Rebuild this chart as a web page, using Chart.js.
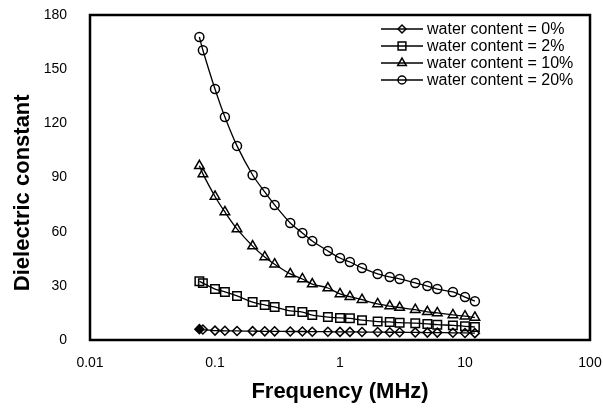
<!DOCTYPE html>
<html>
<head>
<meta charset="utf-8">
<script src="https://cdn.jsdelivr.net/npm/chart.js@4/dist/chart.umd.min.js"></script>
<style>
  html, body { margin: 0; padding: 0; background: #fff; }
  #wrap { width: 603px; height: 417px; }
</style>
</head>
<body>
<div id="wrap"><canvas id="chart"></canvas></div>
<script>
// Dielectric constant vs frequency for four soil water contents (log x axis)

const frequencies = [0.075, 0.08, 0.1, 0.12, 0.15, 0.2, 0.25, 0.3, 0.4, 0.5, 0.6, 0.8,
                     1, 1.2, 1.5, 2, 2.5, 3, 4, 5, 6, 8, 10, 12];

const water0  = [6, 5.8, 5.2, 5.1, 5, 4.9, 4.8, 4.8, 4.7, 4.7, 4.6, 4.6,
                 4.5, 4.5, 4.4, 4.4, 4.3, 4.3, 4.2, 4.1, 4.1, 4, 3.9, 3.8];
const water2  = [32.5, 31.5, 28.2, 26.6, 24.4, 21, 19.4, 18.3, 16.1, 15.5, 13.8, 12.7,
                 12.2, 12, 11, 10.2, 10, 9.6, 9.3, 8.9, 8.5, 8.1, 7.6, 7.2];
const water10 = [96.5, 92, 79.5, 70.9, 61.5, 52, 46, 42, 36.6, 33.8, 31, 28.8,
                 25.5, 24, 22.3, 20, 18.8, 18, 16.8, 15.6, 15, 13.9, 13.2, 12.5];
const water20 = [167.8, 160.5, 139, 123.5, 107.5, 91.4, 82, 74.8, 64.8, 59.3, 54.8, 49.3,
                 45.4, 43.2, 39.9, 36.6, 34.9, 33.8, 31.6, 29.9, 28.2, 26.6, 23.8, 21.5];

const seriesLabels = ['water content = 0%', 'water content = 2%',
                      'water content = 10%', 'water content = 20%'];

const xTicks = [0.01, 0.1, 1, 10, 100];
const xTickLabels = ['0.01', '0.1', '1', '10', '100'];

const FONT = '"Liberation Sans", Arial, sans-serif';

function series(label, values, style, radius, firstFilled) {
    return {
        label: label,
        data: frequencies.map((f, i) => ({ x: f, y: values[i] })),
        borderColor: '#000',
        borderWidth: 1.3,
        tension: 0.3,
        pointStyle: style,
        pointRadius: radius,
        pointBorderColor: '#000',
        pointBorderWidth: 1.5,
        pointBackgroundColor: values.map((v, i) => (firstFilled && i === 0) ? '#000' : 'rgba(0,0,0,0)')
    };
}

// plot frame (all four sides)
const framePlugin = {
    id: 'frame',
    afterDraw(chart) {
        const { ctx, chartArea: a } = chart;
        ctx.save();
        ctx.strokeStyle = '#000';
        ctx.lineWidth = 2.5;
        ctx.strokeRect(a.left, a.top, a.right - a.left, a.bottom - a.top);
        ctx.restore();
    }
};

// legend in the top-right corner: line sample with marker, then label
const legendPlugin = {
    id: 'lineLegend',
    afterDraw(chart) {
        const ctx = chart.ctx;
        ctx.save();
        chart.data.datasets.forEach((ds, i) => {
            const y = 29 + i * 17;
            ctx.strokeStyle = '#000';
            ctx.lineWidth = 1.3;
            ctx.beginPath();
            ctx.moveTo(381, y);
            ctx.lineTo(423, y);
            ctx.stroke();
            ctx.fillStyle = 'rgba(0,0,0,0)';
            ctx.lineWidth = 1.5;
            Chart.helpers.drawPoint(ctx, {
                pointStyle: ds.pointStyle,
                radius: ds.pointRadius - 0.5,
                borderWidth: 1.5,
                rotation: 0
            }, 402, y);
            ctx.fillStyle = '#000';
            ctx.font = '16px ' + FONT;
            ctx.textBaseline = 'middle';
            ctx.textAlign = 'left';
            ctx.fillText(ds.label, 427, y + 1);
        });
        ctx.restore();
    }
};

new Chart(document.getElementById('chart'), {
    type: 'line',
    data: {
        datasets: [
            series(seriesLabels[0], water0, 'rectRot', 4.5, true),
            series(seriesLabels[1], water2, 'rect', 6, false),
            series(seriesLabels[2], water10, 'triangle', 5.5, false),
            series(seriesLabels[3], water20, 'circle', 4.5, false)
        ]
    },
    options: {
        responsive: true,
        maintainAspectRatio: false,
        animation: false,
        layout: { padding: { top: 15, right: 13, left: 0, bottom: 0 } },
        plugins: {
            legend: { display: false },
            tooltip: { enabled: false }
        },
        scales: {
            x: {
                type: 'logarithmic',
                min: 0.01,
                max: 100,
                afterBuildTicks: scale => { scale.ticks = xTicks.map(v => ({ value: v })); },
                afterFit: scale => {
                    scale.height = 77;
                    scale.paddingLeft = 0;
                    scale.paddingRight = 0;
                },
                grid: { display: false, drawTicks: false },
                border: { display: false },
                ticks: {
                    autoSkip: false,
                    maxRotation: 0,
                    padding: 15,
                    color: '#000',
                    font: { family: FONT, size: 14 },
                    callback: value => xTickLabels[xTicks.indexOf(value)]
                },
                title: {
                    display: true,
                    text: 'Frequency (MHz)',
                    color: '#000',
                    font: { family: FONT, size: 22, weight: 'bold' },
                    padding: { bottom: 12 }
                }
            },
            y: {
                min: 0,
                max: 180,
                afterFit: scale => {
                    scale.width = 90;
                    scale.paddingTop = 0;
                    scale.paddingBottom = 0;
                },
                grid: { display: false, drawTicks: false },
                border: { display: false },
                ticks: {
                    stepSize: 30,
                    padding: 23,
                    color: '#000',
                    font: { family: FONT, size: 14 }
                },
                title: {
                    display: true,
                    text: 'Dielectric constant     ',
                    color: '#000',
                    font: { family: FONT, size: 22, weight: 'bold' },
                    padding: { top: 10 }
                }
            }
        }
    },
    plugins: [framePlugin, legendPlugin]
});
</script>
</body>
</html>
